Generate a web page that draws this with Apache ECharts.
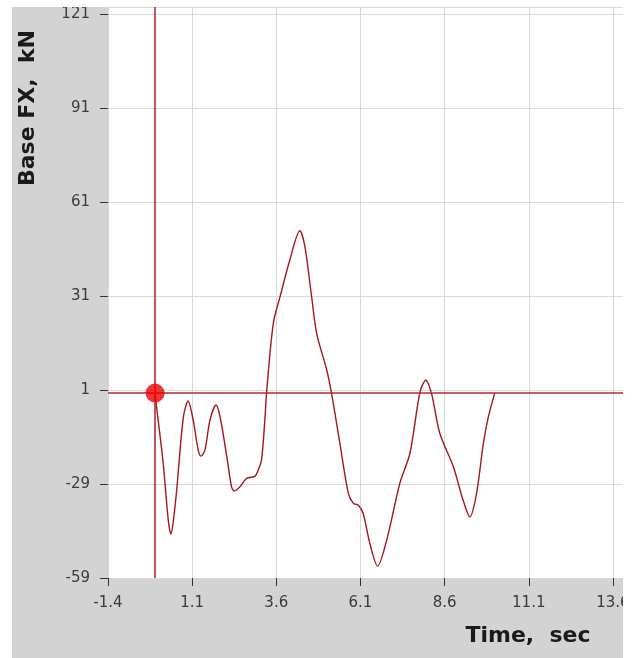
<!DOCTYPE html>
<html>
<head>
<meta charset="utf-8">
<script src="https://cdn.jsdelivr.net/npm/echarts@6/dist/echarts.min.js"></script>
<style>
  html, body { margin: 0; padding: 0; background: #ffffff; width: 636px; height: 658px; overflow: hidden; }
  #chart { position: absolute; left: 12px; top: 7px; width: 611px; height: 651px; background: #d3d3d3; }
</style>
</head>
<body>
<div id="chart"></div>
<script>
// Time (sec) and base shear force (kN)
const timeValues = [0.00, 0.03, 0.24, 0.39, 0.47, 0.55, 0.64, 0.84, 0.98, 1.13, 1.28, 1.36, 1.48, 1.63, 1.81, 1.93, 2.13, 2.27, 2.35, 2.52, 2.72, 2.97, 3.06, 3.16, 3.26, 3.31, 3.51, 3.71, 4.00, 4.30, 4.45, 4.65, 4.80, 5.10, 5.24, 5.49, 5.74, 5.89, 6.03, 6.18, 6.38, 6.61, 6.88, 7.27, 7.57, 7.87, 8.04, 8.21, 8.46, 8.86, 9.15, 9.35, 9.55, 9.75, 9.90, 10.09];
const forceValues = [0, -3.2, -22.4, -40.5, -45.0, -40.0, -31.0, -7.6, -2.5, -8.6, -18.2, -20.1, -18.2, -8.6, -3.8, -7.6, -20.3, -29.9, -31.2, -29.9, -27.2, -26.5, -24.6, -21.4, -8.6, 0, 22.2, 30.7, 42.4, 51.8, 46.7, 30.7, 19.0, 7.3, 0, -16.1, -32.0, -35.2, -35.7, -38.4, -48.0, -55.2, -46.9, -28.8, -19.2, 0.4, 4.1, -0.1, -12.9, -23.5, -34.2, -39.5, -32.0, -16.1, -7.6, 0];

// cursor marker (crosshair + dot)
const cursorTime = [0];
const cursorForce = [0];

// axis ticks
const xTickStart = -1.4, xTickStep = 2.5, xEnd = 13.9;
const yTickStart = -59, yTickStep = 30, yEnd = 123.2;

const xAxisTitle = 'Time,  sec';
const yAxisTitle = 'Base FX,  kN';

const curve = timeValues.map((t, i) => [t, forceValues[i]]);
const dots = cursorTime.map((t, i) => [t, cursorForce[i]]);

const chart = echarts.init(document.getElementById('chart'), null, { renderer: 'canvas' });
const labelFont = { color: '#3a3a3a', fontSize: 15, fontFamily: 'DejaVu Sans' };

chart.setOption({
  animation: false,
  backgroundColor: 'transparent',
  grid: { left: 96, top: 0, right: 0, bottom: 80, show: true, backgroundColor: '#ffffff', borderWidth: 0,
          containLabel: false, outerBoundsMode: 'none' },
  xAxis: {
    type: 'value', min: xTickStart, max: xEnd, interval: xTickStep,
    axisLine: { show: false, onZero: false },
    axisTick: { show: true, inside: false, length: 8, lineStyle: { color: '#333', width: 1 } },
    axisLabel: Object.assign({ margin: 18, showMaxLabel: false, formatter: v => (+v).toFixed(1) }, labelFont),
    splitLine: { show: true, lineStyle: { color: '#d9d9d9', width: 1 } }
  },
  yAxis: {
    type: 'value', min: yTickStart, max: yEnd, interval: yTickStep,
    axisLine: { show: false, onZero: false },
    axisTick: { show: true, inside: false, length: 8, lineStyle: { color: '#333', width: 1 } },
    axisLabel: Object.assign({ margin: 18, showMaxLabel: false, formatter: v => String(Math.round(v)) }, labelFont),
    splitLine: { show: true, lineStyle: { color: '#d9d9d9', width: 1 } }
  },
  graphic: [
    { type: 'text', x: 16, y: 101, rotation: Math.PI / 2,
      style: { text: yAxisTitle, font: 'bold 22px "DejaVu Sans"', fill: '#1a1a1a', textAlign: 'center', textVerticalAlign: 'middle', align: 'center', verticalAlign: 'middle' } },
    { type: 'text', x: 516, y: 629,
      style: { text: xAxisTitle, font: 'bold 22px "DejaVu Sans"', fill: '#1a1a1a', textAlign: 'center', textVerticalAlign: 'middle', align: 'center', verticalAlign: 'middle' } }
  ],
  series: [
    {
      type: 'line', data: curve, smooth: 0.3, showSymbol: false, symbol: 'none',
      lineStyle: { color: '#a8141c', width: 1.4 },
      markLine: {
        silent: true, symbol: ['none', 'none'], label: { show: false },
        lineStyle: { color: '#b52a2e', width: 1.6, type: 'solid' },
        data: [{ xAxis: cursorTime[0] }, { yAxis: cursorForce[0] }]
      },
      z: 3
    },
    {
      type: 'scatter', data: dots, symbol: 'circle', symbolSize: 19,
      itemStyle: { color: '#ee0000' }, z: 5
    }
  ]
});
</script>
</body>
</html>
